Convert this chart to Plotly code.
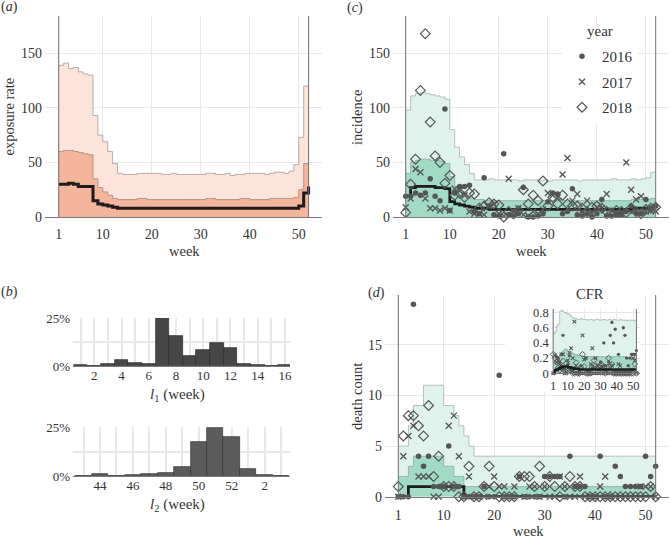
import plotly.graph_objects as go

# ---------------- data ----------------
weeks = list(range(1, 53))
week_ticks = [1, 10, 20, 30, 40, 50]

exposure_upper95 = [139, 141, 136, 137, 133, 131, 130, 93, 75, 69, 60, 49, 40, 39, 39, 39, 40, 40, 40, 40,
                    40, 39, 39, 40, 39, 39, 39, 39, 39, 39, 40, 40, 39, 39, 40, 38, 39, 39, 40, 40,
                    40, 40, 39, 40, 41, 41, 40, 42, 48, 73, 120, 120]
exposure_upper50 = [60, 61, 61, 60, 59, 58, 57, 35, 27, 23, 20, 17, 16, 16, 16, 16, 17, 17, 16, 16,
                    16, 16, 16, 16, 16, 16, 16, 16, 16, 16, 17, 17, 16, 16, 16, 16, 16, 17, 17, 16,
                    16, 16, 16, 17, 17, 17, 17, 17, 18, 25, 49, 49]
exposure_median = [30, 30, 31, 30, 28, 28, 28, 15, 12, 11, 10, 9, 8, 8, 8, 8, 8, 8, 8, 8,
                   8, 8, 8, 8, 8, 8, 8, 8, 8, 8, 8, 8, 8, 8, 8, 8, 8, 8, 8, 8,
                   8, 8, 8, 8, 8, 8, 8, 8, 8, 10, 22, 28]

incidence_upper95 = [98, 111, 113, 114, 113, 112, 111, 110, 108, 80, 64, 55, 48, 40, 34, 34, 34, 35, 34, 34,
                     34, 34, 34, 33, 34, 34, 34, 33, 34, 33, 34, 34, 34, 34, 34, 33, 34, 34, 34, 34,
                     34, 34, 35, 34, 34, 34, 35, 34, 35, 36, 41, 41]
incidence_upper50 = [40, 50, 52, 53, 53, 52, 52, 51, 49, 37, 28, 23, 19, 17, 16, 16, 15, 15, 15, 15,
                     15, 15, 15, 15, 15, 15, 15, 15, 15, 15, 15, 15, 15, 15, 15, 15, 15, 15, 15, 15,
                     15, 15, 15, 15, 15, 15, 16, 16, 16, 16, 17, 17]
incidence_median = [19, 27, 28, 28, 28, 28, 27, 27, 26, 14, 12, 11, 10, 9, 8, 8, 8, 7, 7, 7,
                    7, 7, 7, 7, 7, 7, 7, 7, 7, 7, 7, 7, 7, 7, 7, 7, 7, 7, 7, 7,
                    7, 7, 7, 7, 7, 7, 8, 8, 8, 8, 9, 9]
incidence_2016 = [19, 19, 22, 20, 22, 35, 19, 15, 99, 6, 22, 28, 28, 29, 5, 3, 36, 10, 2, 1,
                  58, 2, 1, 3, 27, 0, 0, 1, 3, 14, 22, 21, 3, 5, 26, 2, 1, 3, 0, 3,
                  16, 1, 1, 2, 3, 5, 10, 4, 3, 16, 8, 10]
incidence_2017 = [9, 17, 44, 41, 17, 8, 8, 6, 8, 6, 26, 24, 20, 5, 3, 3, 2, 10, 12, 3,
                  1, 35, 5, 8, 2, 1, 5, 3, 7, 22, 20, 18, 39, 54, 15, 21, 5, 15, 3, 9,
                  8, 21, 6, 3, 2, 50, 25, 16, 19, 5, 6, 5]
incidence_2018 = [4, 30, 53, 116, 168, 87, 56, 50, 31, 38, 20, 22, 18, 22, 21, 8, 10, 13, 12, 11,
                  0, 5, 3, 6, 25, 12, 20, 15, 33, 10, 18, 12, 20, 12, 10, 10, 8, 5, 9, 10,
                  8, 5, 4, 6, 5, 4, 8, 5, 3, 7, 8, 9]

deaths_upper95 = [5, 5, 7, 9, 9, 11, 11, 11, 11, 9, 9, 8, 7, 6, 5, 4, 4, 4, 4, 4,
                  4, 4, 4, 4, 4, 4, 4, 4, 4, 4, 4, 4, 4, 4, 4, 4, 4, 4, 4, 4,
                  4, 4, 4, 4, 4, 4, 4, 4, 4, 4, 4, 4]
deaths_upper50 = [2, 2, 3, 4, 4, 4, 4, 4, 4, 3, 3, 2, 2, 1, 1, 1, 1, 1, 1, 1,
                  1, 1, 1, 1, 1, 1, 1, 1, 1, 1, 1, 1, 1, 1, 1, 1, 1, 1, 1, 1,
                  1, 1, 1, 1, 1, 1, 1, 1, 1, 1, 1, 1]
deaths_median = [0, 0, 1, 1, 1, 1, 1, 1, 1, 1, 1, 1, 1, 0, 0, 0, 0, 0, 0, 0,
                 0, 0, 0, 0, 0, 0, 0, 0, 0, 0, 0, 0, 0, 0, 0, 0, 0, 0, 0, 0,
                 0, 0, 0, 0, 0, 0, 0, 0, 0, 0, 0, 0]
deaths_2016 = [0, 0, 0, 19, 4, 3, 4, 1, 1, 1, 5, 1, 1, 0, 0, 0, 0, 1, 0, 0,
               12, 0, 0, 0, 2, 0, 0, 0, 0, 2, 2, 2, 2, 0, 4, 1, 1, 1, 0, 0,
               4, 0, 0, 3, 2, 1, 1, 1, 1, 4, 2, 3]
deaths_2017 = [0, 4, 6, 7, 2, 2, 2, 0, 0, 1, 7, 8, 4, 0, 2, 0, 0, 0, 1, 2,
               1, 1, 0, 1, 2, 0, 1, 1, 0, 1, 0, 0, 2, 1, 0, 0, 2, 0, 0, 0,
               1, 2, 0, 0, 0, 0, 0, 0, 1, 1, 1, 0]
deaths_2018 = [1, 6, 8, 8, 7, 6, 9, 2, 4, 1, 1, 1, 0, 0, 3, 0, 0, 1, 3, 1,
               0, 0, 0, 0, 2, 2, 2, 1, 3, 1, 2, 1, 0, 1, 2, 1, 1, 0, 0, 0,
               0, 0, 0, 0, 0, 0, 0, 0, 0, 0, 1, 0]

cfr_upper95 = [0.52, 0.55, 0.62, 0.65, 0.82, 0.83, 0.81, 0.80, 0.79, 0.78, 0.77, 0.74, 0.73, 0.72, 0.72, 0.71, 0.71, 0.72, 0.71, 0.71,
               0.71, 0.70, 0.71, 0.71, 0.70, 0.70, 0.71, 0.71, 0.70, 0.70, 0.71, 0.71, 0.70, 0.70, 0.71, 0.70, 0.70, 0.71, 0.70, 0.70,
               0.70, 0.71, 0.70, 0.70, 0.70, 0.69, 0.70, 0.70, 0.70, 0.69, 0.70, 0.70]
cfr_upper50 = [0.22, 0.20, 0.20, 0.22, 0.25, 0.28, 0.30, 0.32, 0.31, 0.29, 0.28, 0.27, 0.26, 0.25, 0.24, 0.23, 0.23, 0.23, 0.22, 0.22,
               0.22, 0.22, 0.22, 0.22, 0.22, 0.22, 0.22, 0.22, 0.22, 0.22, 0.22, 0.22, 0.22, 0.22, 0.22, 0.22, 0.22, 0.22, 0.22, 0.22,
               0.22, 0.22, 0.22, 0.22, 0.22, 0.21, 0.21, 0.21, 0.21, 0.20, 0.20, 0.20]
cfr_median = [0.02, 0.04, 0.05, 0.06, 0.07, 0.08, 0.09, 0.09, 0.09, 0.08, 0.08, 0.07, 0.07, 0.06, 0.06, 0.06, 0.05, 0.05, 0.05, 0.05,
              0.05, 0.05, 0.05, 0.05, 0.05, 0.05, 0.05, 0.05, 0.05, 0.05, 0.05, 0.05, 0.05, 0.05, 0.05, 0.05, 0.05, 0.05, 0.05, 0.05,
              0.05, 0.05, 0.05, 0.05, 0.05, 0.05, 0.05, 0.05, 0.05, 0.05, 0.05, 0.05]
cfr_2016 = [0, 0, 0.22, 0.20, 0.15, 0.10, 0.50, 0.05, 0.01, 0.12, 0.23, 0.04, 0.04, 0, 0, 0, 0, 0.10, 0, 0,
            0.20, 0, 0, 0, 0.07, 0, 0, 0, 0, 0.15, 0.09, 0.40, 0.10, 0, 0.15, 0.50, 0.67, 0.40, 0.58, 0,
            0.25, 0, 0, 0.60, 0.50, 0.20, 0.10, 0.20, 0.25, 0.25, 0.25, 0.30]
cfr_2017 = [0, 0.24, 0.14, 0.17, 0.12, 0.25, 0.25, 0, 0, 0.17, 0.27, 0.33, 0.20, 0.68, 0.10, 0, 0, 0, 0.50, 0.18,
            0.20, 0.03, 0, 0.12, 0.33, 0, 0.20, 0.10, 0, 0.05, 0, 0, 0.05, 0.02, 0, 0, 0.10, 0, 0, 0,
            0.12, 0.10, 0, 0, 0, 0, 0, 0, 0.05, 0.20, 0.17, 0]
cfr_2018 = [0.25, 0.20, 0.15, 0.07, 0.04, 0.07, 0.16, 0.04, 0.13, 0.03, 0.05, 0.05, 0, 0, 0.14, 0, 0, 0.08, 0.25, 0.09,
            0, 0, 0, 0, 0.08, 0.17, 0.10, 0.07, 0.09, 0.10, 0.11, 0.08, 0, 0.08, 0.20, 0.10, 0.12, 0, 0, 0,
            0, 0, 0, 0, 0, 0, 0, 0, 0, 0, 0.12, 0]

l1_weeks = list(range(1, 17))
l1_share = [0.4, 0.2, 0.9, 3.1, 1.4, 1.0, 25.0, 15.7, 5.2, 8.4, 12.2, 9.4, 1.0, 0.3, 0.1, 0.3]
l1_tickvals = [2, 4, 6, 8, 10, 12, 14, 16]
l2_weeks = list(range(43, 56))
l2_share = [0.1, 0.9, 0.1, 0.3, 0.8, 1.7, 4.8, 17.4, 25.0, 20.0, 3.6, 0.7, 0.1]
l2_tickvals = [44, 46, 48, 50, 52, 54]
l2_ticktext = ["44", "46", "48", "50", "52", "2"]
pct_tickvals = [0, 25]
pct_ticktext = ["0%", "25%"]

years = ["2016", "2017", "2018"]

# ---------------- style ----------------
W, H = 670, 539
FONT = "Liberation Serif"
TXT = "#333333"
GRID = "#e8e8e8"
AXL = "#7a7a7a"
PT = "#555555"
ORANGE_L, ORANGE_M = "#fde4da", "#f5b59c"
GREEN_L, GREEN_M = "#dff2ec", "#a2dbc5"


def dx(a, b):
    return [a / W, b / W]


def dy(top, bottom):
    return [1 - bottom / H, 1 - top / H]


def px(x):
    return x / W


def py(y):
    return 1 - y / H


fig = go.Figure()


def band(xa, ya, y, fill, line):
    fig.add_trace(go.Scatter(x=weeks, y=y, mode="lines", xaxis=xa, yaxis=ya,
                             line=dict(shape="hv", color=line, width=0.8),
                             fill="tozeroy", fillcolor=fill, showlegend=False, hoverinfo="skip"))


def med(xa, ya, y, w):
    fig.add_trace(go.Scatter(x=weeks, y=y, mode="lines", xaxis=xa, yaxis=ya,
                             line=dict(shape="hv", color="#1c1c1c", width=w),
                             showlegend=False, hoverinfo="skip"))


def points(xa, ya, ys, scale=1.0, legend=False):
    specs = [("circle", 5.5, 0), ("x-thin-open", 6, 1.3), ("diamond-open", 7.5, 1.2)]
    for name, y, (sym, size, lw) in zip(years, ys, specs):
        fig.add_trace(go.Scatter(x=weeks, y=y, mode="markers", xaxis=xa, yaxis=ya, name=name,
                                 legendgroup=name,
                                 marker=dict(symbol=sym, size=size * scale, color=PT,
                                             line=dict(color=PT, width=lw * (0.8 if scale < 1 else 1))),
                                 cliponaxis=False, showlegend=legend, hoverinfo="skip"))


# (a) exposure rate
band("x", "y", exposure_upper95, ORANGE_L, "#a89a95")
band("x", "y", exposure_upper50, ORANGE_M, "#a08a80")
med("x", "y", exposure_median, 3)

# (c) incidence
band("x2", "y2", incidence_upper95, GREEN_L, "#9fb5ad")
band("x2", "y2", incidence_upper50, GREEN_M, "#8fa89f")
med("x2", "y2", incidence_median, 2.8)
points("x2", "y2", [incidence_2016, incidence_2017, incidence_2018], legend=True)

# (b) histograms
fig.add_trace(go.Bar(x=l1_weeks, y=l1_share, width=1, xaxis="x3", yaxis="y3", showlegend=False,
                     marker=dict(color="#474747", line=dict(color="#2a2a2a", width=0.7)), hoverinfo="skip"))
fig.add_trace(go.Bar(x=l2_weeks, y=l2_share, width=1, xaxis="x4", yaxis="y4", showlegend=False,
                     marker=dict(color="#5c5c5c", line=dict(color="#333333", width=0.7)), hoverinfo="skip"))

# (d) death count
band("x5", "y5", deaths_upper95, GREEN_L, "#9fb5ad")
band("x5", "y5", deaths_upper50, GREEN_M, "#8fa89f")
med("x5", "y5", deaths_median, 2.8)
points("x5", "y5", [deaths_2016, deaths_2017, deaths_2018])

# mask subplot behind the inset (white background)
fig.add_trace(go.Scatter(x=[], y=[], xaxis="x6", yaxis="y6", showlegend=False))

# inset CFR
band("x7", "y7", cfr_upper95, GREEN_L, "#9fb5ad")
band("x7", "y7", cfr_upper50, GREEN_M, "#8fa89f")
points("x7", "y7", [cfr_2016, cfr_2017, cfr_2018], scale=0.6)
med("x7", "y7", cfr_median, 2.5)


def axis(domain, rng, anchor, size=14, **kw):
    d = dict(domain=domain, range=rng, anchor=anchor, showgrid=True, gridcolor=GRID, gridwidth=1,
             zeroline=False, showline=False, ticks="", fixedrange=True, automargin=False,
             tickfont=dict(family=FONT, size=size, color=TXT))
    d.update(kw)
    return d


xline = dict(showline=True, linecolor=AXL, linewidth=1)

layout = dict(
    template="none",
    width=W, height=H, margin=dict(l=0, r=0, t=0, b=0, autoexpand=False),
    paper_bgcolor="white", plot_bgcolor="white",
    font=dict(family=FONT, color=TXT), bargap=0,
    # (a)
    xaxis=axis(dx(45, 322), [-1.8, 54.74], "y", tickvals=week_ticks, ticklabelstandoff=4, **xline),
    yaxis=axis(dy(16, 217), [0, 184.2], "x", tickvals=[0, 50, 100, 150], ticklabelstandoff=2),
    # (c)
    xaxis2=axis(dx(393, 669), [-1.59, 54.71], "y2", tickvals=week_ticks, ticklabelstandoff=4, **xline),
    yaxis2=axis(dy(16, 217), [0, 184.2], "x2", tickvals=[0, 50, 100, 150], ticklabelstandoff=2),
    # (b) top
    xaxis3=axis(dx(73, 290), [0.436, 16.37], "y3", size=13, tickvals=l1_tickvals, gridwidth=1.5,
                minor=dict(tickvals=l1_weeks, showgrid=True, gridcolor=GRID, gridwidth=1.5),
                ticklabelstandoff=-3, **xline),
    yaxis3=axis(dy(318, 366), [0, 25.1], "x3", size=13, tickvals=pct_tickvals, ticktext=pct_ticktext,
                gridwidth=1.5, minor=dict(tickvals=[12.5], showgrid=True, gridcolor=GRID, gridwidth=1.5),
                ticklabelstandoff=2),
    # (b) bottom
    xaxis4=axis(dx(73, 290), [42.36, 55.54], "y4", size=13, tickvals=l2_tickvals, ticktext=l2_ticktext,
                gridwidth=1.5, minor=dict(tickvals=l2_weeks, showgrid=True, gridcolor=GRID, gridwidth=1.5),
                ticklabelstandoff=-3, **xline),
    yaxis4=axis(dy(427, 476), [0, 25.4], "x4", size=13, tickvals=pct_tickvals, ticktext=pct_ticktext,
                gridwidth=1.5, minor=dict(tickvals=[12.5], showgrid=True, gridcolor=GRID, gridwidth=1.5),
                ticklabelstandoff=2),
    # (d)
    xaxis5=axis(dx(385, 669), [-1.635, 54.64], "y5", tickvals=week_ticks, ticklabelstandoff=5, **xline),
    yaxis5=axis(dy(295, 496.7), [0, 19.91], "x5", tickvals=[0, 5, 10, 15], ticklabelstandoff=2),
    # mask
    xaxis6=dict(domain=dx(505, 641), anchor="y6", visible=False, showgrid=False, zeroline=False,
                fixedrange=True, automargin=False),
    yaxis6=dict(domain=dy(282, 392), anchor="x6", visible=False, showgrid=False, zeroline=False,
                fixedrange=True, automargin=False),
    # inset
    xaxis7=axis(dx(551.7, 640), [0.1, 54.2], "y7", size=12.5, tickvals=week_ticks, ticklabelstandoff=1, **xline),
    yaxis7=axis(dy(309, 373.3), [0, 0.847], "x7", size=12.5, tickvals=[0, 0.2, 0.4, 0.6, 0.8],
                ticktext=["0", "0.2", "0.4", "0.6", "0.8"], ticklabelstandoff=2),
    legend=dict(x=px(562), y=py(40), xanchor="left", yanchor="top", bgcolor="white", borderwidth=0,
                font=dict(family=FONT, size=15, color=TXT), itemwidth=30, tracegroupgap=3),
)
fig.update_layout(**layout)

# reference lines at first and last week
shapes = []
for xa, ya in [("x", "y"), ("x2", "y2"), ("x5", "y5"), ("x7", "y7")]:
    for wk in (weeks[0], weeks[-1]):
        shapes.append(dict(type="line", xref=xa, yref=ya + " domain", x0=wk, x1=wk, y0=0, y1=1,
                           line=dict(color="#707070", width=1), layer="above"))
fig.update_layout(shapes=shapes)


def note(text, x, y, size=14.5, angle=0, **kw):
    fig.add_annotation(text=text, x=px(x), y=py(y), xref="paper", yref="paper", showarrow=False,
                       xanchor="center", yanchor="middle", textangle=angle,
                       font=dict(family=FONT, size=size, color=TXT), **kw)


note("(<i>a</i>)", 9, 7, size=14)
note("(<i>b</i>)", 9, 292, size=14)
note("(<i>c</i>)", 355, 8, size=14)
note("(<i>d</i>)", 376, 293, size=14)
note("exposure rate", 8.5, 117, angle=-90)
note("incidence", 357, 117, angle=-90)
note("death count", 357, 397, angle=-90)
note("week", 184, 251)
note("week", 531, 251)
note("week", 528, 531)
note("<i>l</i><sub>1</sub> (week)", 177, 395, size=15)
note("<i>l</i><sub>2</sub> (week)", 177, 505, size=15)
note("CFR", 590, 294, size=14.5)
note("year", 600, 31, size=15)

fig.write_html("out.html", config={"displayModeBar": False},
               post_script="document.body.style.margin='0px';")
